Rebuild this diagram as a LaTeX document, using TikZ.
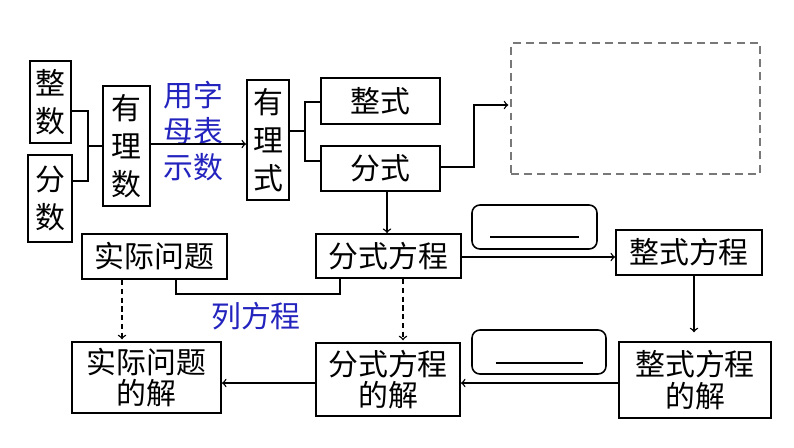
\documentclass[tikz,border=0pt]{standalone}
\usepackage{fontspec}
\setmainfont{Noto Sans CJK SC}
\usepackage{tikz}
\usetikzlibrary{calc}
\usepackage{xcolor}
\definecolor{labelblue}{RGB}{35,35,190}
\definecolor{dashgray}{RGB}{120,120,120}

\begin{document}
\begin{tikzpicture}[x=0.02cm,y=-0.02cm,
box/.style={draw,line width=1.1pt,inner sep=0pt,align=center,font=\fontsize{17}{18}\selectfont},
vbox/.style={box,font=\fontsize{17}{21.5}\selectfont},
blank/.style={draw,line width=0.9pt,rounded corners=4.5pt,minimum width=#1,minimum height=0.88cm},
link/.style={line width=1pt},
arr/.style={->,line width=0.8pt}]
\useasboundingbox (0,0) rectangle (794,447);

% number side
\node[vbox,minimum width=0.82cm,minimum height=1.64cm] (zhengshu) at (50.5,102) {整\\数};
\node[vbox,minimum width=0.88cm,minimum height=1.74cm] (fenshu) at (50,198.5) {分\\数};
\node[vbox,minimum width=0.94cm,minimum height=2.40cm] (youlishu) at (126.5,146) {有\\理\\数};
\node[vbox,minimum width=0.84cm,minimum height=2.40cm] (youlishi) at (268,140) {有\\理\\式};
\node[align=center,text=labelblue,font=\fontsize{17}{20.5}\selectfont] (yongzimu) at (193,131) {用字\\母表\\示数};

% expression side
\node[box,minimum width=2.38cm,minimum height=0.92cm] (zhengshi) at (380.5,101) {整式};
\node[box,minimum width=2.38cm,minimum height=0.90cm] (fenshi) at (380.5,168.5) {分式};
\node[draw=dashgray,line width=1.1pt,dash pattern=on 4.5pt off 3pt,minimum width=4.98cm,minimum height=2.62cm] (blankbox) at (635.5,108.5) {};

% equations
\node[box,minimum width=2.90cm,minimum height=0.90cm] (shiji) at (154.5,256.5) {实际问题};
\node[box,minimum width=2.90cm,minimum height=0.88cm] (fsfc) at (388.5,256) {分式方程};
\node[blank=2.50cm] (blankA) at (534.5,227) {};
\node[box,minimum width=2.92cm,minimum height=0.90cm] (zsfc) at (689,252.5) {整式方程};
\node[text=labelblue,font=\fontsize{17}{18}\selectfont] (liefc) at (256,316) {列方程};

% solutions
\node[box,minimum width=2.98cm,minimum height=1.42cm] (shijij) at (146.5,377.5) {实际问题\\的解};
\node[box,minimum width=2.88cm,minimum height=1.46cm] (fsfcj) at (388,379.5) {分式方程\\的解};
\node[box,minimum width=3.04cm,minimum height=1.52cm] (zsfcj) at (695,380) {整式方程\\的解};
\node[blank=2.68cm] (blankB) at (539,352) {};

\draw[line width=0.8pt] ([xshift=-0.89cm,yshift=-0.2cm]blankA.center) -- ++(1.78cm,0);
\draw[line width=0.8pt] ([xshift=-0.87cm,yshift=-0.22cm]blankB.center) -- ++(1.74cm,0);

% brackets
\coordinate (jn1) at (88,146);
\draw[link] (zhengshu.east |- 0,111) -| (jn1) |- (fenshu.east |- 0,181);
\draw[link] (jn1) -- (youlishu.west |- jn1);
\draw[arr] (youlishu.east |- 0,144) -- (youlishi.west |- 0,144);
\coordinate (jn2) at (305,131);
\draw[link] (youlishi.east |- jn2) -- (jn2);
\draw[link] (zhengshi.west |- 0,102) -| (jn2) |- (fenshi.west |- 0,161);

\coordinate (tp) at (474,105);
\draw[arr,shorten >=1pt] (fenshi.east |- 0,167) -| (tp) -- (blankbox.west |- tp);
\draw[arr] (fenshi.south -| 387,0) -- (fsfc.north -| 387,0);
\draw[arr] (fsfc.east |- 0,257) -- (zsfc.west |- 0,257);
\draw[arr,shorten >=5pt] (zsfc.south -| 694,0) -- (zsfcj.north -| 694,0);
\draw[arr] (zsfcj.west |- 0,383) -- (fsfcj.east |- 0,383);
\draw[arr] (fsfcj.west |- 0,383) -- (shijij.east |- 0,383);

\draw[link] (shiji.south -| 176,0) -- (176,294) -| (fsfc.south -| 340,0);
\draw[arr,dash pattern=on 3pt off 2pt,shorten >=1pt] (shiji.south -| 122,0) -- (shijij.north -| 122,0);
\draw[arr,dash pattern=on 3pt off 2pt,shorten >=1pt] (fsfc.south -| 403,0) -- (fsfcj.north -| 403,0);
\end{tikzpicture}
\end{document}
